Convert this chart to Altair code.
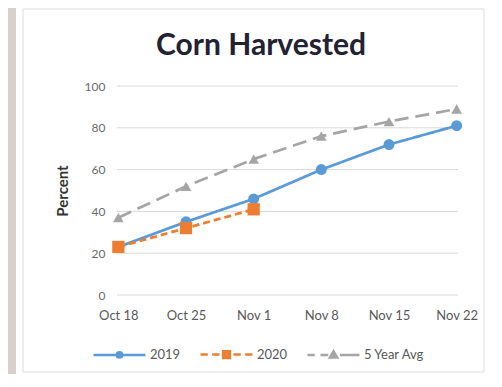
import altair as alt
import pandas as pd

categories = ["Oct 18", "Oct 25", "Nov 1", "Nov 8", "Nov 15", "Nov 22"]
series = ["2019", "2020", "5 Year Avg"]
v2019 = [23, 35, 46, 60, 72, 81]
v2020 = [23, 32, 41]
v5yr = [37, 52, 65, 76, 83, 89]
y_ticks = [0, 20, 40, 60, 80, 100]
colors = ["#5b9bd5", "#ed7d31", "#a5a5a5"]
shapes = ["circle", "square", "triangle-up"]
sizes = [120, 150, 115]
dashes = [[1, 0], [7, 4], [14, 7]]

rows = []
for s, vals in zip(series, [v2019, v2020, v5yr]):
    for c, v in zip(categories, vals):
        rows.append({"week": c, "pct": v, "series": s})
df = pd.DataFrame(rows)

FONT = "Lato"
PL, PT = 109, 78
W, H = 341, 209

x_enc = alt.X("week:N", sort=categories, title=None,
              scale=alt.Scale(type="point", padding=0.02),
              axis=alt.Axis(labelAngle=0, domain=False, ticks=False, grid=False,
                            labelPadding=14, labelFontSize=13, labelColor="#595959",
                            labelFont=FONT, zindex=2))
y_axis = alt.Axis(values=y_ticks, domain=False, ticks=False, grid=False,
                  labelPadding=12, zindex=2,
                  labelFontSize=12, labelColor="#6a6a6a", labelFont=FONT,
                  titleFont=FONT, titleFontSize=15, titleFontWeight="bold",
                  titleColor="#333333", titlePadding=14)
y_enc = alt.Y("pct:Q", title="Percent", scale=alt.Scale(domain=[0, 100]), axis=y_axis)

bg = pd.DataFrame({"a": [0]})
white = alt.Chart(bg).mark_rect(fill="white").encode(
    x=alt.value(16 - 8 - PL), x2=alt.value(600), y=alt.value(-200), y2=alt.value(600))
panel = alt.Chart(bg).mark_rect(fill="white", stroke="#dcdcdc", strokeWidth=1).encode(
    x=alt.value(23 - 8 - PL), x2=alt.value(484 - 8 - PL),
    y=alt.value(8 - 8 - PT + 1), y2=alt.value(372 - 8 - PT))
title = alt.Chart(bg).mark_text(text="Corn Harvested", font=FONT, fontSize=30,
                                fontWeight="bold", color="#222233", align="center",
                                baseline="middle").encode(
    x=alt.value(261 - 8 - PL), y=alt.value(46 - 8 - PT))

grid = alt.Chart(pd.DataFrame({"t": y_ticks})).mark_rule(color="#d9d9d9", strokeWidth=1).encode(
    y=alt.Y("t:Q", title="Percent", scale=alt.Scale(domain=[0, 100]), axis=y_axis))

base = alt.Chart(df)
line_layers = [
    base.transform_filter(alt.datum.series == s).mark_line(
        strokeWidth=2.75, color=col, strokeDash=d).encode(x=x_enc, y=y_enc)
    for s, col, d in zip(series, colors, dashes)
]
point_layers = [
    base.transform_filter(alt.datum.series == s).mark_point(
        filled=True, opacity=1, shape=shp, size=sz, color=col).encode(x=x_enc, y=y_enc)
    for s, shp, sz, col in zip(series, shapes, sizes, colors)
]

# legend symbols: line + marker drawn with strokes (nested outlines fill the marker)
paths = [
    "M-1,0H1"
    "M-0.1,0A0.1,0.1,0,1,0,0.1,0A0.1,0.1,0,1,0,-0.1,0Z"
    "M-0.04,0A0.04,0.04,0,1,0,0.04,0A0.04,0.04,0,1,0,-0.04,0Z",
    "M-1,0H-0.72M-0.55,0H-0.27M0.27,0H0.55M0.72,0H1"
    "M-0.13,-0.13H0.13V0.13H-0.13Z"
    "M-0.06,-0.06H0.06V0.06H-0.06Z",
    "M-1,0H-0.72M-0.5,0H-0.2M0.25,0H1"
    "M-0.14,0.1L0,-0.14L0.14,0.1Z"
    "M-0.06,0.05L0,-0.05L0.06,0.05Z",
]
leg = alt.Legend(orient="none", legendX=92 - 8 - PL, legendY=353 - 26 - 8 - PT,
                 direction="horizontal", title=None, symbolSize=2704,
                 symbolStrokeWidth=2.5, labelFont=FONT,
                 labelFontSize=13, labelColor="#595959", labelOffset=3,
                 columnPadding=14, zindex=3)
legend_layer = base.mark_point(filled=False, opacity=1).encode(
    x=x_enc, y=y_enc,
    color=alt.Color("series:N", scale=alt.Scale(domain=series, range=colors), legend=leg),
    shape=alt.Shape("series:N", scale=alt.Scale(domain=series, range=paths), legend=leg),
)

chart = alt.layer(legend_layer, white, panel, title, grid, *line_layers, *point_layers).properties(
    width=W, height=H,
    padding={"left": PL, "top": PT, "right": 36, "bottom": 79},
    autosize=alt.AutoSizeParams(type="none"),
).configure(background="#d8d0cc").configure_view(stroke=None)

chart.save("out.html", embed_options={"renderer": "svg", "actions": False})
